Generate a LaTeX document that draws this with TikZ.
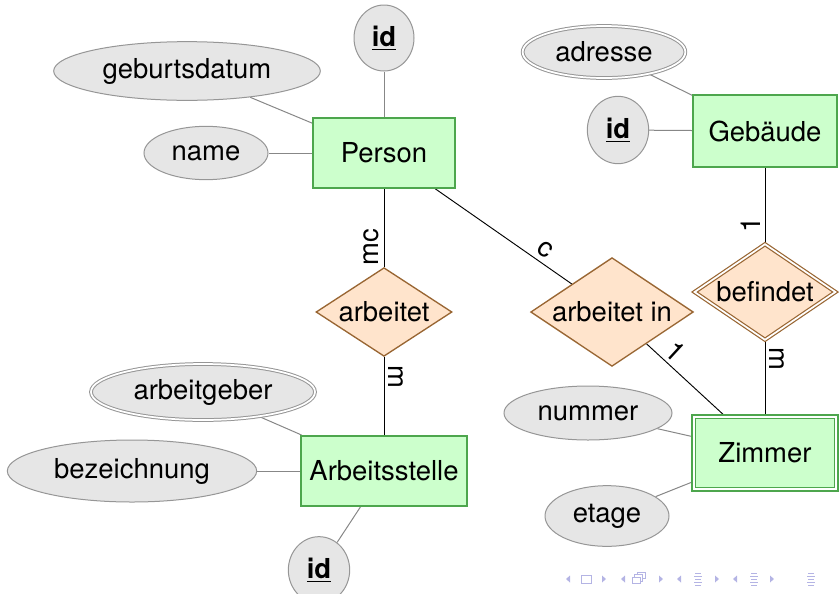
\documentclass[tikz,border=0pt]{standalone}
\usepackage{fontspec}
\setmainfont{TeX Gyre Heros}
\usetikzlibrary{shapes.geometric,backgrounds}

\definecolor{entfill}{RGB}{204,255,204}
\definecolor{entdraw}{RGB}{77,166,77}
\definecolor{relfill}{RGB}{255,228,204}
\definecolor{reldraw}{RGB}{153,102,51}
\definecolor{attfill}{RGB}{230,230,230}
\definecolor{attdraw}{RGB}{150,150,150}
\definecolor{attline}{RGB}{135,135,135}
\definecolor{navc}{RGB}{180,180,228}

\begin{document}
\begin{tikzpicture}[x=0.75pt,y=-0.75pt,
  font=\fontsize{20.6}{24}\selectfont,
  entity/.style={rectangle, draw=entdraw, fill=entfill, line width=1.5pt, inner sep=2pt},
  weakentity/.style={entity, line width=1.3pt, double=white, double distance=1.3pt},
  attribute/.style={ellipse, draw=attdraw, fill=attfill, line width=0.75pt, inner sep=1pt},
  multiattr/.style={attribute, double=white, double distance=1.3pt},
  relation/.style={diamond, aspect=1.5, draw=reldraw, fill=relfill, line width=1pt, inner sep=1pt},
  identrel/.style={relation, line width=0.9pt, double=white, double distance=1.3pt},
  attrline/.style={draw=attline, line width=0.75pt},
  relline/.style={draw=black, line width=0.7pt},
  card/.style={sloped, above, pos=0.25}
]
\useasboundingbox (0,0) rectangle (839,593);

% entities
\node[entity, minimum width=106pt, minimum height=52pt] (person) at (384,153) {Person};
\node[entity, minimum width=107.5pt, minimum height=53.5pt] (gebaeude) at (765,131) {Gebäude};
\node[entity, minimum width=125pt, minimum height=52.5pt] (stelle) at (384,471) {Arbeitsstelle};
\node[weakentity, minimum width=107pt, minimum height=54.5pt] (zimmer) at (765,453) {Zimmer};

% attributes
\node[attribute, minimum width=45pt, minimum height=49.5pt] (pid) at (384,38) {\underline{\textbf{id}}};
\node[attribute, minimum width=200pt, minimum height=44pt] (pgeb) at (187,71) {geburtsdatum};
\node[attribute, minimum width=93pt, minimum height=40pt] (pname) at (206,153) {name};
\node[multiattr, minimum width=122pt, minimum height=39pt] (gadr) at (604,52) {adresse};
\node[attribute, minimum width=46pt, minimum height=50.5pt] (gid) at (618,130) {\underline{\textbf{id}}};
\node[multiattr, minimum width=168pt, minimum height=42pt] (sgeber) at (203,392) {arbeitgeber};
\node[attribute, minimum width=187pt, minimum height=46.5pt] (sbez) at (132,471) {bezeichnung};
\node[attribute, minimum width=46pt, minimum height=50pt] (sid) at (319,570) {\underline{\textbf{id}}};
\node[attribute, minimum width=126pt, minimum height=40.5pt] (znum) at (588,413) {nummer};
\node[attribute, minimum width=93pt, minimum height=45.5pt] (zetage) at (607,516) {etage};

% relationships
\node[relation, minimum width=102pt, minimum height=66.5pt] (arbeitet) at (384,312) {arbeitet};
\node[relation, minimum width=122pt, minimum height=81.5pt] (arbeitetin) at (612,312) {arbeitet in};
\node[identrel, minimum width=106pt, minimum height=72pt] (befindet) at (765,292) {befindet};

% connectors
\begin{pgfonlayer}{background}
\draw[attrline] (person) -- (pid);
\draw[attrline] (person) -- (pgeb);
\draw[attrline] (person) -- (pname);
\draw[attrline] (gebaeude) -- (gadr);
\draw[attrline] (gebaeude) -- (gid);
\draw[attrline] (stelle) -- (sgeber);
\draw[attrline] (stelle) -- (sbez);
\draw[attrline] (stelle) -- (sid);
\draw[attrline] (zimmer) -- (znum);
\draw[attrline] (zimmer) -- (zetage);

\draw[relline] (arbeitet) -- node[card] {mc} (person);
\draw[relline] (arbeitet) -- node[card] {m} (stelle);
\draw[relline] (arbeitetin) -- node[card] {c} (person);
\draw[relline] (arbeitetin) -- node[card] {1} (zimmer);
\draw[relline] (befindet) -- node[card] {1} (gebaeude);
\draw[relline] (befindet) -- node[card] {m} (zimmer);
\end{pgfonlayer}

% navigation symbols
\begin{scope}[navc, line width=0.55pt]
  \foreach \x in {568,623,679,735}
    \fill (\x-2,579) -- (\x+2,575.5) -- (\x+2,582.5) -- cycle;
  \foreach \x in {604,661,717,772}
    \fill (\x+2,579) -- (\x-2,575.5) -- (\x-2,582.5) -- cycle;
  \draw (581.5,575) rectangle (591,583);
  \draw[fill=white] (637,572) rectangle (645,578.5);
  \draw[fill=white] (634.5,574.5) rectangle (642.5,581);
  \draw[fill=white] (632,577) rectangle (640,583.5);
  \foreach \c in {698,754,811} {
    \draw (\c-3,573) -- (\c+3,573);
    \draw (\c-4,576) -- (\c+4,576);
    \draw (\c-3,579) -- (\c+3,579);
    \draw (\c-4,582) -- (\c+4,582);
    \draw (\c-3,585) -- (\c+3,585);
  }
\end{scope}
\end{tikzpicture}
\end{document}
